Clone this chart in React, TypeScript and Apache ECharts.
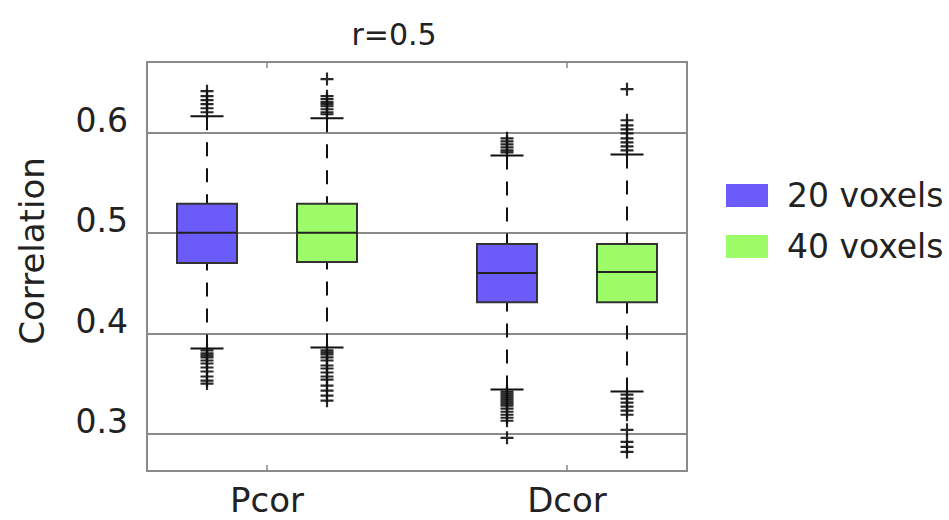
import React, { useEffect, useRef } from "react";
import * as echarts from "echarts";

const categories = ["Pcor", "Dcor"];
const groupNames = ["20 voxels", "40 voxels"];
const groupColors = ["#6B5CFA", "#9EFC68"];
const yTicks = [0.3, 0.4, 0.5, 0.6];
const xTicks = [1, 2];

const lowerWhisker20 = [0.385, 0.344];
const q1_20 = [0.47, 0.431];
const median20 = [0.5, 0.46];
const q3_20 = [0.529, 0.489];
const upperWhisker20 = [0.616, 0.577];

const lowerWhisker40 = [0.386, 0.342];
const q1_40 = [0.471, 0.431];
const median40 = [0.5, 0.461];
const q3_40 = [0.529, 0.489];
const upperWhisker40 = [0.614, 0.578];

const outliersPcor20 = [0.641, 0.636, 0.632, 0.628, 0.624, 0.62, 0.383, 0.38, 0.378, 0.376, 0.373, 0.37, 0.366, 0.362, 0.357, 0.353, 0.35];
const outliersPcor40 = [0.653, 0.636, 0.633, 0.63, 0.628, 0.626, 0.623, 0.62, 0.618, 0.383, 0.381, 0.379, 0.376, 0.373, 0.368, 0.365, 0.361, 0.357, 0.354, 0.348, 0.343, 0.338, 0.333];
const outliersDcor20 = [0.594, 0.591, 0.588, 0.585, 0.582, 0.58, 0.342, 0.34, 0.338, 0.336, 0.334, 0.332, 0.33, 0.328, 0.325, 0.322, 0.319, 0.316, 0.313, 0.296];
const outliersDcor40 = [0.643, 0.612, 0.607, 0.603, 0.599, 0.594, 0.59, 0.586, 0.582, 0.339, 0.335, 0.331, 0.327, 0.323, 0.319, 0.304, 0.292, 0.287, 0.282];

const FONT = "DejaVu Sans";
const TEXT = "#222";
const GROUP_OFFSET = 0.2;

function groupX(catIdx: number, groupIdx: number) {
  return catIdx + 1 + (groupIdx === 0 ? -GROUP_OFFSET : GROUP_OFFSET);
}

export default function App() {
  const ref = useRef<HTMLDivElement>(null);
  useEffect(() => {
    if (!ref.current) return;
    const chart = echarts.init(ref.current, null, { renderer: "svg" });

    const stats = [
      [lowerWhisker20, q1_20, median20, q3_20, upperWhisker20],
      [lowerWhisker40, q1_40, median40, q3_40, upperWhisker40],
    ];
    const outliers = [
      [outliersPcor20, outliersPcor40],
      [outliersDcor20, outliersDcor40],
    ];

    const boxSeries = groupNames.map((name, g) => ({
      name,
      type: "custom",
      xAxisIndex: 0,
      yAxisIndex: 0,
      itemStyle: { color: groupColors[g] },
      data: categories.map((_, c) => [
        groupX(c, g),
        stats[g][0][c],
        stats[g][1][c],
        stats[g][2][c],
        stats[g][3][c],
        stats[g][4][c],
      ]),
      renderItem: (params: any, api: any) => {
        const x = api.value(0);
        const lo = api.coord([x, api.value(1)]);
        const q1 = api.coord([x, api.value(2)]);
        const med = api.coord([x, api.value(3)]);
        const q3 = api.coord([x, api.value(4)]);
        const hi = api.coord([x, api.value(5)]);
        const halfW = api.size([0.1, 0])[0];
        const capHalf = api.size([0.055, 0])[0];
        const cx = lo[0];
        const dashStyle = { stroke: "#111", lineWidth: 2, lineDash: [14, 12] };
        const solid = { stroke: "#111", lineWidth: 2 };
        return {
          type: "group",
          children: [
            { type: "line", shape: { x1: cx, y1: hi[1], x2: cx, y2: q3[1] }, style: dashStyle },
            { type: "line", shape: { x1: cx, y1: lo[1], x2: cx, y2: q1[1] }, style: dashStyle },
            { type: "line", shape: { x1: cx - capHalf, y1: hi[1], x2: cx + capHalf, y2: hi[1] }, style: solid },
            { type: "line", shape: { x1: cx - capHalf, y1: lo[1], x2: cx + capHalf, y2: lo[1] }, style: solid },
            {
              type: "rect",
              shape: { x: cx - halfW, y: q3[1], width: halfW * 2, height: q1[1] - q3[1] },
              style: { fill: groupColors[g], stroke: "#333", lineWidth: 2 },
            },
            { type: "line", shape: { x1: cx - halfW, y1: med[1], x2: cx + halfW, y2: med[1] }, style: { stroke: "#222", lineWidth: 2 } },
          ],
        };
      },
    }));

    const outlierSeries = groupNames.map((name, g) => ({
      name: "outliers " + name,
      type: "scatter",
      xAxisIndex: 0,
      yAxisIndex: 0,
      symbol: "path://M5,0H7V5H12V7H7V12H5V7H0V5H5Z",
      symbolSize: 13,
      itemStyle: { color: "#111", opacity: 0.9 },
      z: 3,
      data: categories.flatMap((_, c) => outliers[c][g].map((v) => [groupX(c, g), v])),
    }));

    chart.setOption({
      animation: false,
      backgroundColor: "#fff",
      grid: {
        left: 147,
        top: 62,
        width: 540,
        height: 409,
        show: true,
        borderColor: "#8a8a8a",
        borderWidth: 2,
        backgroundColor: "transparent",
      },
      legend: {
        orient: "vertical",
        left: 721,
        top: 174,
        itemWidth: 42,
        itemHeight: 23,
        itemGap: 18,
        icon: "rect",
        data: groupNames.map((n, g) => ({ name: n, itemStyle: { color: groupColors[g], borderWidth: 0 } })),
        textStyle: { fontSize: 33, fontFamily: FONT, color: TEXT, padding: [0, 0, 0, 14] },
        selectedMode: false,
      },
      xAxis: [
        {
          type: "value",
          position: "bottom",
          min: 0.6,
          max: 2.4,
          axisLine: { show: false },
          splitLine: { show: false },
          axisTick: { customValues: xTicks, inside: true, length: 6, lineStyle: { color: "#8a8a8a", width: 1.5 } },
          axisLabel: {
            customValues: xTicks,
            formatter: (v: number) => categories[Math.round(v) - 1] ?? "",
            fontSize: 34,
            fontFamily: FONT,
            color: TEXT,
            margin: 12,
          },
        },
        {
          type: "value",
          position: "top",
          min: 0.6,
          max: 2.4,
          axisLine: { show: false },
          splitLine: { show: false },
          axisTick: { customValues: xTicks, inside: true, length: 6, lineStyle: { color: "#8a8a8a", width: 1.5 } },
          axisLabel: { show: false },
        },
      ],
      yAxis: {
        type: "value",
        min: 0.263,
        max: 0.67,
        axisLine: { show: false },
        axisTick: { customValues: yTicks, show: false },
        splitLine: { show: true, lineStyle: { color: "#8a8a8a", width: 2 } },
        axisLabel: {
          customValues: yTicks,
          formatter: (v: number) => v.toFixed(1),
          fontSize: 33,
          fontFamily: FONT,
          color: TEXT,
          margin: 19,
          verticalAlign: "bottom",
          lineHeight: 24,
        },
      },
      graphic: [
        {
          type: "text",
          x: 394,
          y: 34,
          style: { text: "r=0.5", fontSize: 30, fontFamily: FONT, fill: TEXT, align: "center", verticalAlign: "middle" },
        },
        {
          type: "text",
          x: 32,
          y: 251,
          rotation: Math.PI / 2,
          style: { text: "Correlation", fontSize: 34, fontFamily: FONT, fill: TEXT, align: "center", verticalAlign: "middle" },
        },
      ],
      series: [...boxSeries, ...outlierSeries],
    });

    return () => chart.dispose();
  }, []);

  return (
    <div
      ref={ref}
      style={{ position: "fixed", left: 0, top: 0, width: 949, height: 520, background: "#fff" }}
    />
  );
}
